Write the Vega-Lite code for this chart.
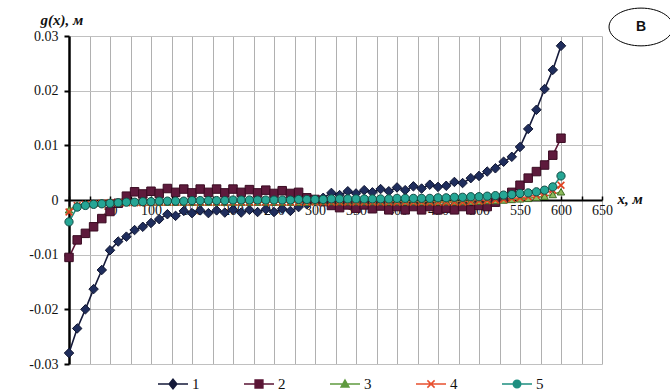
{
"$schema":"https://vega.github.io/schema/vega-lite/v6.json",
"width":533,"height":328,
"autosize":{"type":"none"},
"padding":{"left":69,"top":36,"right":68,"bottom":28},
"background":"white",
"config":{"view":{"stroke":null},"font":"Liberation Serif"},
"resolve":{"axis":{"x":"independent"}},
"datasets":{
"series":[
{"x":0,"s":"1","g":-0.0280},{"x":10,"s":"1","g":-0.0235},{"x":20,"s":"1","g":-0.0200},{"x":30,"s":"1","g":-0.0163},{"x":40,"s":"1","g":-0.0128},{"x":50,"s":"1","g":-0.0092},{"x":60,"s":"1","g":-0.0076},{"x":70,"s":"1","g":-0.0067},{"x":80,"s":"1","g":-0.0055},{"x":90,"s":"1","g":-0.0049},{"x":100,"s":"1","g":-0.0042},{"x":110,"s":"1","g":-0.0035},{"x":120,"s":"1","g":-0.0026},{"x":130,"s":"1","g":-0.0029},{"x":140,"s":"1","g":-0.0020},{"x":150,"s":"1","g":-0.0024},{"x":160,"s":"1","g":-0.0019},{"x":170,"s":"1","g":-0.0024},{"x":180,"s":"1","g":-0.0019},{"x":190,"s":"1","g":-0.0023},{"x":200,"s":"1","g":-0.0018},{"x":210,"s":"1","g":-0.0023},{"x":220,"s":"1","g":-0.0018},{"x":230,"s":"1","g":-0.0022},{"x":240,"s":"1","g":-0.0017},{"x":250,"s":"1","g":-0.0022},{"x":260,"s":"1","g":-0.0016},{"x":270,"s":"1","g":-0.0020},{"x":280,"s":"1","g":-0.0013},{"x":290,"s":"1","g":-0.0008},{"x":300,"s":"1","g":-0.0002},{"x":310,"s":"1","g":0.0004},{"x":320,"s":"1","g":0.0013},{"x":330,"s":"1","g":0.0009},{"x":340,"s":"1","g":0.0016},{"x":350,"s":"1","g":0.0012},{"x":360,"s":"1","g":0.0018},{"x":370,"s":"1","g":0.0014},{"x":380,"s":"1","g":0.0020},{"x":390,"s":"1","g":0.0016},{"x":400,"s":"1","g":0.0023},{"x":410,"s":"1","g":0.0018},{"x":420,"s":"1","g":0.0025},{"x":430,"s":"1","g":0.0021},{"x":440,"s":"1","g":0.0028},{"x":450,"s":"1","g":0.0024},{"x":460,"s":"1","g":0.0026},{"x":470,"s":"1","g":0.0033},{"x":480,"s":"1","g":0.0031},{"x":490,"s":"1","g":0.0040},{"x":500,"s":"1","g":0.0044},{"x":510,"s":"1","g":0.0052},{"x":520,"s":"1","g":0.0058},{"x":530,"s":"1","g":0.0070},{"x":540,"s":"1","g":0.0079},{"x":550,"s":"1","g":0.0097},{"x":560,"s":"1","g":0.0130},{"x":570,"s":"1","g":0.0165},{"x":580,"s":"1","g":0.0203},{"x":590,"s":"1","g":0.0238},{"x":600,"s":"1","g":0.0282},
{"x":0,"s":"2","g":-0.0105},{"x":10,"s":"2","g":-0.0073},{"x":20,"s":"2","g":-0.0061},{"x":30,"s":"2","g":-0.0049},{"x":40,"s":"2","g":-0.0034},{"x":50,"s":"2","g":-0.0021},{"x":60,"s":"2","g":-0.0006},{"x":70,"s":"2","g":0.0007},{"x":80,"s":"2","g":0.0015},{"x":90,"s":"2","g":0.0011},{"x":100,"s":"2","g":0.0016},{"x":110,"s":"2","g":0.0012},{"x":120,"s":"2","g":0.0021},{"x":130,"s":"2","g":0.0014},{"x":140,"s":"2","g":0.0020},{"x":150,"s":"2","g":0.0013},{"x":160,"s":"2","g":0.0020},{"x":170,"s":"2","g":0.0014},{"x":180,"s":"2","g":0.0020},{"x":190,"s":"2","g":0.0013},{"x":200,"s":"2","g":0.0020},{"x":210,"s":"2","g":0.0014},{"x":220,"s":"2","g":0.0019},{"x":230,"s":"2","g":0.0013},{"x":240,"s":"2","g":0.0018},{"x":250,"s":"2","g":0.0012},{"x":260,"s":"2","g":0.0017},{"x":270,"s":"2","g":0.0012},{"x":280,"s":"2","g":0.0014},{"x":290,"s":"2","g":0.0004},{"x":300,"s":"2","g":0.0001},{"x":310,"s":"2","g":-0.0003},{"x":320,"s":"2","g":-0.0010},{"x":330,"s":"2","g":-0.0014},{"x":340,"s":"2","g":-0.0009},{"x":350,"s":"2","g":-0.0015},{"x":360,"s":"2","g":-0.0009},{"x":370,"s":"2","g":-0.0016},{"x":380,"s":"2","g":-0.0011},{"x":390,"s":"2","g":-0.0018},{"x":400,"s":"2","g":-0.0012},{"x":410,"s":"2","g":-0.0018},{"x":420,"s":"2","g":-0.0012},{"x":430,"s":"2","g":-0.0018},{"x":440,"s":"2","g":-0.0012},{"x":450,"s":"2","g":-0.0018},{"x":460,"s":"2","g":-0.0015},{"x":470,"s":"2","g":-0.0018},{"x":480,"s":"2","g":-0.0012},{"x":490,"s":"2","g":-0.0018},{"x":500,"s":"2","g":-0.0010},{"x":510,"s":"2","g":-0.0012},{"x":520,"s":"2","g":-0.0004},{"x":530,"s":"2","g":0.0003},{"x":540,"s":"2","g":0.0014},{"x":550,"s":"2","g":0.0027},{"x":560,"s":"2","g":0.0040},{"x":570,"s":"2","g":0.0052},{"x":580,"s":"2","g":0.0064},{"x":590,"s":"2","g":0.0082},{"x":600,"s":"2","g":0.0113},
{"x":0,"s":"3","g":-0.0018},{"x":10,"s":"3","g":-0.0009},{"x":20,"s":"3","g":-0.0007},{"x":30,"s":"3","g":-0.0006},{"x":40,"s":"3","g":-0.0005},{"x":50,"s":"3","g":-0.0004},{"x":60,"s":"3","g":-0.0004},{"x":70,"s":"3","g":-0.0004},{"x":80,"s":"3","g":-0.0004},{"x":90,"s":"3","g":-0.0004},{"x":100,"s":"3","g":-0.0004},{"x":110,"s":"3","g":-0.0004},{"x":120,"s":"3","g":-0.0004},{"x":130,"s":"3","g":-0.0004},{"x":140,"s":"3","g":-0.0004},{"x":150,"s":"3","g":-0.0004},{"x":160,"s":"3","g":-0.0004},{"x":170,"s":"3","g":-0.0004},{"x":180,"s":"3","g":-0.0004},{"x":190,"s":"3","g":-0.0004},{"x":200,"s":"3","g":-0.0004},{"x":210,"s":"3","g":-0.0004},{"x":220,"s":"3","g":-0.0004},{"x":230,"s":"3","g":-0.0004},{"x":240,"s":"3","g":-0.0004},{"x":250,"s":"3","g":-0.0004},{"x":260,"s":"3","g":-0.0004},{"x":270,"s":"3","g":-0.0004},{"x":280,"s":"3","g":-0.0004},{"x":290,"s":"3","g":-0.0004},{"x":300,"s":"3","g":-0.0003},{"x":310,"s":"3","g":-0.0003},{"x":320,"s":"3","g":-0.0003},{"x":330,"s":"3","g":-0.0003},{"x":340,"s":"3","g":-0.0003},{"x":350,"s":"3","g":-0.0003},{"x":360,"s":"3","g":-0.0003},{"x":370,"s":"3","g":-0.0003},{"x":380,"s":"3","g":-0.0003},{"x":390,"s":"3","g":-0.0003},{"x":400,"s":"3","g":-0.0003},{"x":410,"s":"3","g":-0.0003},{"x":420,"s":"3","g":-0.0003},{"x":430,"s":"3","g":-0.0003},{"x":440,"s":"3","g":-0.0003},{"x":450,"s":"3","g":-0.0003},{"x":460,"s":"3","g":-0.0003},{"x":470,"s":"3","g":-0.0003},{"x":480,"s":"3","g":-0.0003},{"x":490,"s":"3","g":-0.0002},{"x":500,"s":"3","g":-0.0002},{"x":510,"s":"3","g":-0.0001},{"x":520,"s":"3","g":-0.0001},{"x":530,"s":"3","g":0.0000},{"x":540,"s":"3","g":0.0001},{"x":550,"s":"3","g":0.0002},{"x":560,"s":"3","g":0.0003},{"x":570,"s":"3","g":0.0005},{"x":580,"s":"3","g":0.0007},{"x":590,"s":"3","g":0.0010},{"x":600,"s":"3","g":0.0015},
{"x":0,"s":"4","g":-0.0022},{"x":10,"s":"4","g":-0.0010},{"x":20,"s":"4","g":-0.0008},{"x":30,"s":"4","g":-0.0007},{"x":40,"s":"4","g":-0.0006},{"x":50,"s":"4","g":-0.0005},{"x":60,"s":"4","g":-0.0005},{"x":70,"s":"4","g":-0.0005},{"x":80,"s":"4","g":-0.0005},{"x":90,"s":"4","g":-0.0005},{"x":100,"s":"4","g":-0.0004},{"x":110,"s":"4","g":-0.0004},{"x":120,"s":"4","g":-0.0004},{"x":130,"s":"4","g":-0.0004},{"x":140,"s":"4","g":-0.0004},{"x":150,"s":"4","g":-0.0004},{"x":160,"s":"4","g":-0.0004},{"x":170,"s":"4","g":-0.0004},{"x":180,"s":"4","g":-0.0004},{"x":190,"s":"4","g":-0.0004},{"x":200,"s":"4","g":-0.0004},{"x":210,"s":"4","g":-0.0004},{"x":220,"s":"4","g":-0.0004},{"x":230,"s":"4","g":-0.0004},{"x":240,"s":"4","g":-0.0004},{"x":250,"s":"4","g":-0.0004},{"x":260,"s":"4","g":-0.0004},{"x":270,"s":"4","g":-0.0004},{"x":280,"s":"4","g":-0.0004},{"x":290,"s":"4","g":-0.0004},{"x":300,"s":"4","g":-0.0004},{"x":310,"s":"4","g":-0.0004},{"x":320,"s":"4","g":-0.0004},{"x":330,"s":"4","g":-0.0004},{"x":340,"s":"4","g":-0.0004},{"x":350,"s":"4","g":-0.0004},{"x":360,"s":"4","g":-0.0004},{"x":370,"s":"4","g":-0.0004},{"x":380,"s":"4","g":-0.0004},{"x":390,"s":"4","g":-0.0004},{"x":400,"s":"4","g":-0.0004},{"x":410,"s":"4","g":-0.0004},{"x":420,"s":"4","g":-0.0004},{"x":430,"s":"4","g":-0.0004},{"x":440,"s":"4","g":-0.0004},{"x":450,"s":"4","g":-0.0004},{"x":460,"s":"4","g":-0.0004},{"x":470,"s":"4","g":-0.0004},{"x":480,"s":"4","g":-0.0004},{"x":490,"s":"4","g":-0.0003},{"x":500,"s":"4","g":-0.0002},{"x":510,"s":"4","g":-0.0001},{"x":520,"s":"4","g":0.0000},{"x":530,"s":"4","g":0.0001},{"x":540,"s":"4","g":0.0003},{"x":550,"s":"4","g":0.0004},{"x":560,"s":"4","g":0.0006},{"x":570,"s":"4","g":0.0009},{"x":580,"s":"4","g":0.0013},{"x":590,"s":"4","g":0.0018},{"x":600,"s":"4","g":0.0027},
{"x":0,"s":"5","g":-0.0040},{"x":10,"s":"5","g":-0.0013},{"x":20,"s":"5","g":-0.0010},{"x":30,"s":"5","g":-0.0008},{"x":40,"s":"5","g":-0.0007},{"x":50,"s":"5","g":-0.0006},{"x":60,"s":"5","g":-0.0005},{"x":70,"s":"5","g":-0.0004},{"x":80,"s":"5","g":-0.0004},{"x":90,"s":"5","g":-0.0003},{"x":100,"s":"5","g":-0.0003},{"x":110,"s":"5","g":-0.0002},{"x":120,"s":"5","g":-0.0002},{"x":130,"s":"5","g":-0.0002},{"x":140,"s":"5","g":-0.0002},{"x":150,"s":"5","g":-0.0001},{"x":160,"s":"5","g":-0.0001},{"x":170,"s":"5","g":-0.0001},{"x":180,"s":"5","g":-0.0001},{"x":190,"s":"5","g":-0.0001},{"x":200,"s":"5","g":0.0000},{"x":210,"s":"5","g":0.0000},{"x":220,"s":"5","g":0.0000},{"x":230,"s":"5","g":0.0000},{"x":240,"s":"5","g":0.0000},{"x":250,"s":"5","g":0.0000},{"x":260,"s":"5","g":0.0000},{"x":270,"s":"5","g":0.0000},{"x":280,"s":"5","g":0.0001},{"x":290,"s":"5","g":0.0001},{"x":300,"s":"5","g":0.0001},{"x":310,"s":"5","g":0.0001},{"x":320,"s":"5","g":0.0002},{"x":330,"s":"5","g":0.0002},{"x":340,"s":"5","g":0.0002},{"x":350,"s":"5","g":0.0002},{"x":360,"s":"5","g":0.0002},{"x":370,"s":"5","g":0.0002},{"x":380,"s":"5","g":0.0002},{"x":390,"s":"5","g":0.0002},{"x":400,"s":"5","g":0.0003},{"x":410,"s":"5","g":0.0003},{"x":420,"s":"5","g":0.0003},{"x":430,"s":"5","g":0.0003},{"x":440,"s":"5","g":0.0003},{"x":450,"s":"5","g":0.0004},{"x":460,"s":"5","g":0.0004},{"x":470,"s":"5","g":0.0005},{"x":480,"s":"5","g":0.0005},{"x":490,"s":"5","g":0.0006},{"x":500,"s":"5","g":0.0006},{"x":510,"s":"5","g":0.0007},{"x":520,"s":"5","g":0.0008},{"x":530,"s":"5","g":0.0009},{"x":540,"s":"5","g":0.0010},{"x":550,"s":"5","g":0.0012},{"x":560,"s":"5","g":0.0013},{"x":570,"s":"5","g":0.0015},{"x":580,"s":"5","g":0.0018},{"x":590,"s":"5","g":0.0024},{"x":600,"s":"5","g":0.0044}
],
"note":[{"x":697.6,"g":0.03165,"t":"B"}]
},
"layer":[
{"data":{"name":"note"},
 "mark":{"type":"text","opacity":0},
 "encoding":{
  "x":{"field":"x","type":"quantitative","scale":{"domain":[0,650],"nice":false},
   "axis":{"orient":"top","values":[0,25,50,75,100,125,150,175,200,225,250,275,300,325,350,375,400,425,450,475,500,525,550,575,600,625,650],
    "grid":true,"gridColor":"#b0b0b0","gridWidth":1,"domain":false,"ticks":false,"labels":false,"title":null}},
  "y":{"field":"g","type":"quantitative"},
  "text":{"field":"t"}}},
{"data":{"name":"series"},
 "mark":{"type":"line","strokeWidth":1.6},
 "encoding":{
  "x":{"field":"x","type":"quantitative",
   "axis":{"orient":"bottom","offset":{"expr":"scale('y', 0) - height"},
    "values":[0,25,50,75,100,125,150,175,200,225,250,275,300,325,350,375,400,425,450,475,500,525,550,575,600,625,650],
    "grid":false,
    "domainColor":"#000","domainWidth":2,"tickColor":"#000","tickWidth":1.5,"tickSize":-4,
    "labelExpr":"datum.value % 50 == 0 && datum.value > 0 ? datum.label : ''",
    "labelFont":"Liberation Serif","labelFontSize":14,"labelColor":"#111","labelPadding":7,"labelFlush":false,"labelOverlap":false,
    "title":"x, м","titleFont":"Liberation Serif","titleFontStyle":"italic","titleFontWeight":"bold","titleFontSize":15,"titleColor":"#111",
    "titleX":548,"titleY":-2,"titleAlign":"left","titleBaseline":"middle","titleAngle":0}},
  "y":{"field":"g","type":"quantitative","scale":{"domain":[-0.03,0.03],"nice":false,"zero":false},
   "axis":{"orient":"left","values":[-0.03,-0.02,-0.01,0,0.01,0.02,0.03],
    "grid":true,"gridColor":"#c0c0c0","gridWidth":1,
    "domainColor":"#000","domainWidth":2.5,"tickColor":"#000","tickWidth":2,"tickSize":5,
    "labelExpr":"datum.value == 0 ? '0' : (datum.value < 0 ? '-' : '') + format(abs(datum.value), '.2f')",
    "labelFont":"Liberation Serif","labelFontSize":14,"labelColor":"#111","labelPadding":6,
    "title":"g(x), м","titleFont":"Liberation Serif","titleFontStyle":"italic","titleFontWeight":"bold","titleFontSize":15,"titleColor":"#111",
    "titleAngle":0,"titleX":-29,"titleY":-17,"titleAlign":"left","titleBaseline":"middle"}},
  "color":{"field":"s","type":"nominal",
   "scale":{"domain":["1","2","3","4","5"],"range":["#151a3a","#5a1535","#5f9a3f","#e8502f","#1e8f80"]},
   "legend":{"orient":"none","legendX":88,"legendY":332,"direction":"horizontal","columns":5,"title":null,
    "symbolSize":900,"symbolStrokeWidth":1.5,"columnPadding":41,"labelOffset":3,
    "labelFont":"Liberation Serif","labelFontSize":15,"labelColor":"#111",
    "encode":{"symbols":{"update":{
      "shape":{"signal":"datum.value == '1' ? 'M-1,0H1M0,-0.32L0.26,0L0,0.32L-0.26,0Z' : datum.value == '2' ? 'M-1,0H1M-0.26,-0.26H0.26V0.26H-0.26Z' : datum.value == '3' ? 'M-1,0H1M0,-0.26L0.26,0.2H-0.26Z' : datum.value == '4' ? 'M-1,0H1M-0.24,-0.24L0.24,0.24M-0.24,0.24L0.24,-0.24' : 'M-1,0H1M0.25,0A0.25,0.25,0,1,1,-0.25,0A0.25,0.25,0,1,1,0.25,0Z'"},
      "fill":{"scale":"color","field":"value"},
      "stroke":{"scale":"color","field":"value"},
      "strokeWidth":{"value":1.5},
      "opacity":{"value":1}}}}}}
 }},
{"data":{"name":"series"},"transform":[{"filter":"datum.s == '1'"}],
 "mark":{"type":"point","filled":true,"shape":"diamond","size":90,"fill":"#1f2d5c","stroke":"#0e1430","strokeWidth":1,"opacity":1},
 "encoding":{"x":{"field":"x","type":"quantitative","axis":null},"y":{"field":"g","type":"quantitative"}}},
{"data":{"name":"series"},"transform":[{"filter":"datum.s == '2'"}],
 "mark":{"type":"point","filled":true,"shape":"square","size":72,"fill":"#5e1a3c","stroke":"#3a0b22","strokeWidth":1,"opacity":1},
 "encoding":{"x":{"field":"x","type":"quantitative","axis":null},"y":{"field":"g","type":"quantitative"}}},
{"data":{"name":"series"},"transform":[{"filter":"datum.s == '3'"}],
 "mark":{"type":"point","filled":true,"shape":"triangle-up","size":55,"fill":"#8dbb5d","stroke":"#3e6b25","strokeWidth":1,"opacity":1},
 "encoding":{"x":{"field":"x","type":"quantitative","axis":null},"y":{"field":"g","type":"quantitative"}}},
{"data":{"name":"series"},"transform":[{"filter":"datum.s == '4'"}],
 "mark":{"type":"point","filled":false,"shape":"M-1,-1L1,1M-1,1L1,-1","size":45,"stroke":"#e0401f","strokeWidth":1.6,"opacity":1},
 "encoding":{"x":{"field":"x","type":"quantitative","axis":null},"y":{"field":"g","type":"quantitative"}}},
{"data":{"name":"series"},"transform":[{"filter":"datum.s == '5'"}],
 "mark":{"type":"point","filled":true,"shape":"circle","size":68,"fill":"#26a695","stroke":"#134d45","strokeWidth":1,"opacity":1},
 "encoding":{"x":{"field":"x","type":"quantitative","axis":null},"y":{"field":"g","type":"quantitative"}}},
{"data":{"name":"note"},
 "mark":{"type":"point","shape":"M-1,0A1,0.59,0,1,0,1,0A1,0.59,0,1,0,-1,0Z","size":4096,"filled":false,"stroke":"#000","strokeWidth":1,"opacity":1},
 "encoding":{"x":{"field":"x","type":"quantitative","axis":null},"y":{"field":"g","type":"quantitative"}}},
{"data":{"name":"note"},
 "mark":{"type":"text","font":"Liberation Sans","fontWeight":"bold","fontSize":14,"color":"#111","align":"center","baseline":"middle"},
 "encoding":{"x":{"field":"x","type":"quantitative","axis":null},"y":{"field":"g","type":"quantitative"},"text":{"field":"t"}}}
]
}
